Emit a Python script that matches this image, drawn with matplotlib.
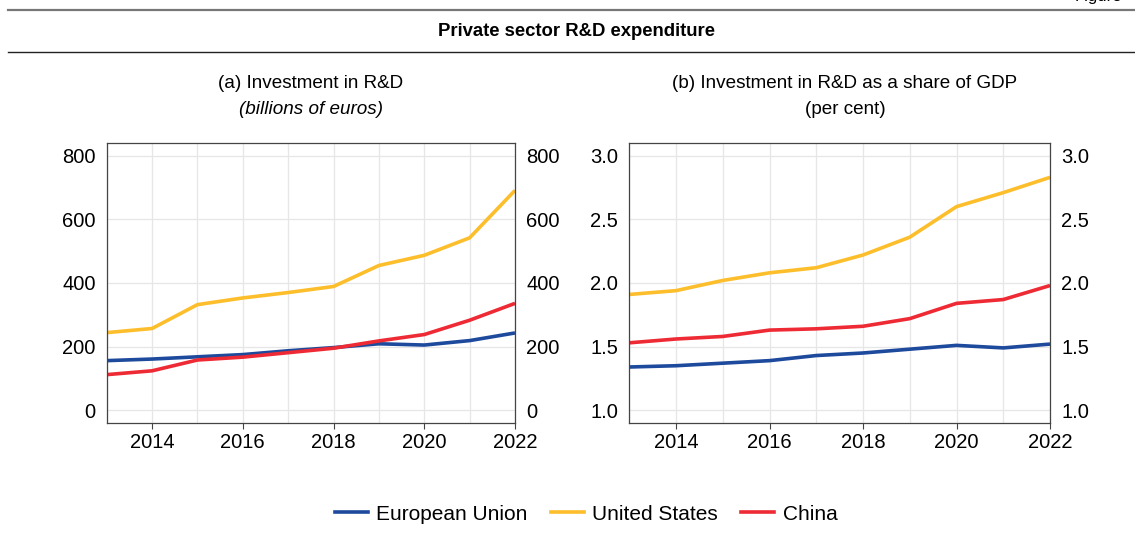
import numpy as np
import matplotlib.pyplot as plt
from matplotlib.lines import Line2D

plt.rcParams['font.family'] = ['Liberation Sans', 'DejaVu Sans']

years = [2013, 2014, 2015, 2016, 2017, 2018, 2019, 2020, 2021, 2022]

# (a) billions of euros
eu_bn = [156, 161, 168, 175, 187, 197, 209, 205, 219, 243]
us_bn = [244, 257, 332, 353, 370, 389, 455, 487, 542, 691]
cn_bn = [112, 124, 158, 167, 181, 195, 218, 238, 283, 336]

# (b) share of GDP, per cent
eu_gdp = [1.34, 1.35, 1.37, 1.39, 1.43, 1.45, 1.48, 1.51, 1.49, 1.52]
us_gdp = [1.91, 1.94, 2.02, 2.08, 2.12, 2.22, 2.36, 2.60, 2.71, 2.83]
cn_gdp = [1.53, 1.56, 1.58, 1.63, 1.64, 1.66, 1.72, 1.84, 1.87, 1.98]

blue = '#1d4a9c'
yellow = '#fdbe2c'
red = '#ee2a35'
names = ['European Union', 'United States', 'China']

W, H = 1135, 549
fig = plt.figure(figsize=(W / 100, H / 100), dpi=100)

def fx(px):
    return px / W

def fy(py):
    return 1 - py / H

# header lines and title
fig.add_artist(Line2D([fx(8), 1], [fy(10), fy(10)], color='#777777', lw=1.6))
fig.add_artist(Line2D([fx(8), 1], [fy(52), fy(52)], color='#222222', lw=1.0))
fig.text(fx(576), fy(31), 'Private sector R&D expenditure', ha='center', va='center',
         fontsize=13.3, fontweight='bold')
fig.text(fx(1075), fy(-3), 'Figure', ha='left', va='center', fontsize=12)

def panel(left, right, ylim, yticks, fmt, data):
    ax = fig.add_axes([fx(left), fy(423), fx(right - left), (423 - 143) / H])
    for vals, c in zip(data, [blue, yellow, red]):
        ax.plot(years, vals, color=c, lw=2.6, solid_capstyle='butt')
    ax.set_xlim(2013, 2022)
    ax.set_ylim(*ylim)
    ax.set_xticks([2014, 2016, 2018, 2020, 2022])
    ax.set_xticks(years, minor=True)
    ax.set_yticks(yticks)
    ax.set_yticklabels([fmt(v) for v in yticks])
    ax.grid(True, which='both', color='#e6e6e6', lw=0.9)
    ax.set_axisbelow(True)
    ax.tick_params(axis='x', which='major', length=4, width=0.8, color='#444444',
                   labelsize=14.5, pad=3)
    ax.tick_params(axis='x', which='minor', length=0)
    ax.tick_params(axis='y', length=0, labelsize=14.5, pad=8,
                   labelleft=True, labelright=True)
    for s in ax.spines.values():
        s.set_color('#444444')
        s.set_linewidth(0.9)
    return ax

ax1 = panel(106.7, 515, (-40, 840), [0, 200, 400, 600, 800], lambda v: str(v),
            [eu_bn, us_bn, cn_bn])
ax2 = panel(629.3, 1050, (0.9, 3.1), [1.0, 1.5, 2.0, 2.5, 3.0], lambda v: f'{v:.1f}',
            [eu_gdp, us_gdp, cn_gdp])

fig.text(fx(311), fy(84), '(a) Investment in R&D', ha='center', va='center', fontsize=13.6)
fig.text(fx(311), fy(109), '(billions of euros)', ha='center', va='center', fontsize=13.6,
         style='italic')
fig.text(fx(845), fy(84), '(b) Investment in R&D as a share of GDP', ha='center',
         va='center', fontsize=13.6)
fig.text(fx(845), fy(109), '(per cent)', ha='center', va='center', fontsize=13.6)

handles = [Line2D([], [], color=c, lw=2.6) for c in [blue, yellow, red]]
fig.legend(handles, names, loc='center', bbox_to_anchor=(fx(586), fy(514)), ncol=3,
           frameon=False, fontsize=15, handlelength=1.6, handletextpad=0.4,
           columnspacing=1.1)

fig.savefig('out.png', dpi=100)
